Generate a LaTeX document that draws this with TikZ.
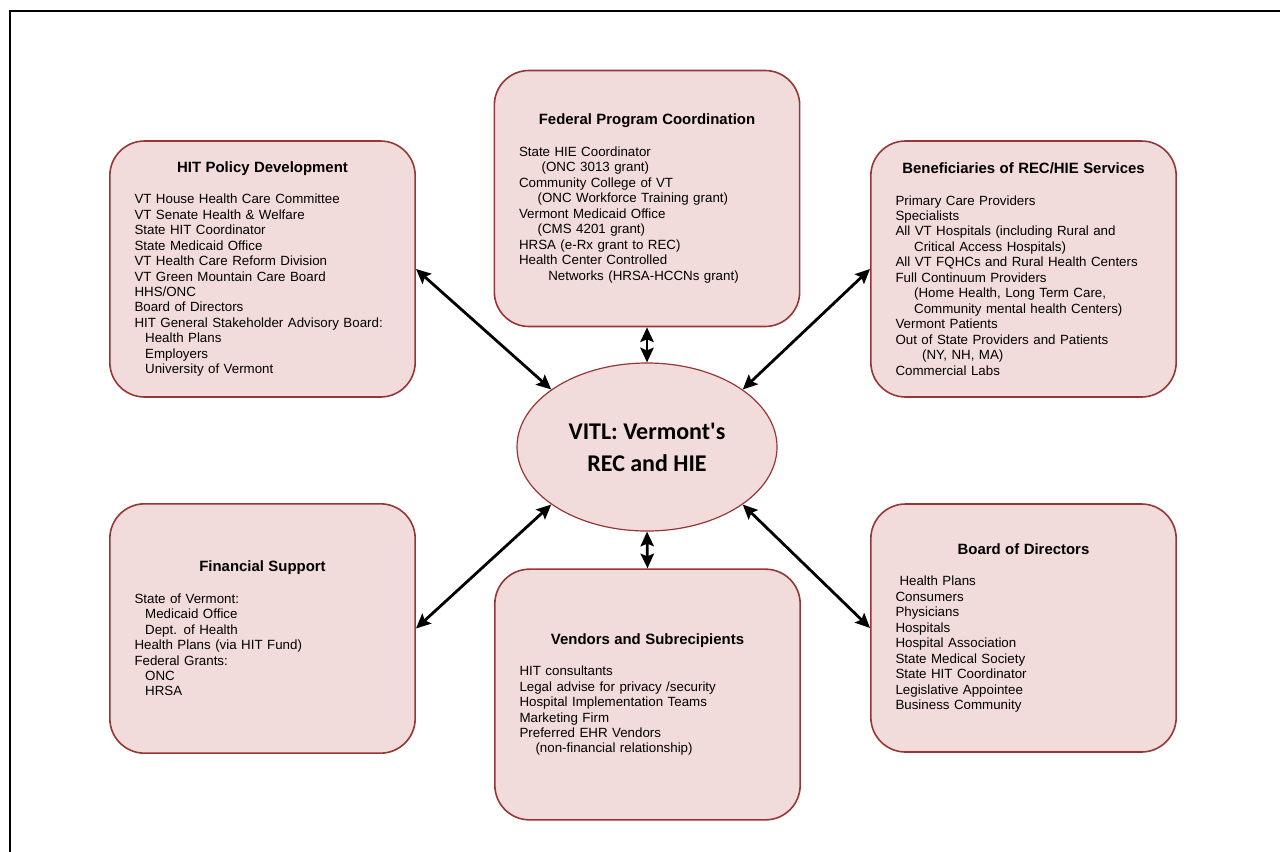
\documentclass[tikz,border=0pt]{standalone}
\usepackage{fontspec}
\setmainfont{Liberation Sans}
\newfontfamily\hubfont{Carlito}
\usetikzlibrary{arrows.meta,shapes.geometric}
\definecolor{boxfill}{HTML}{F2DCDB}
\definecolor{boxline}{HTML}{953735}
\tikzstyle{box}=[rectangle, rounded corners=26pt, fill=boxfill, draw=boxline, line width=1.2pt, minimum width=229pt, minimum height=192pt, text width=192pt, inner sep=0pt, align=left, font=\fontsize{10}{11.6}\selectfont]
\tikzstyle{hub}=[ellipse, fill=boxfill, draw=boxline, line width=0.9pt, minimum width=195pt, minimum height=126pt, inner sep=0pt, align=center, font=\hubfont\bfseries\fontsize{18}{24}\selectfont]
\tikzstyle{link}=[line width=2.1pt, {Stealth[length=11pt,width=10pt,inset=2pt]}-{Stealth[length=11pt,width=10pt,inset=2pt]}]
\newcommand{\boxhead}[1]{\makebox[\hsize]{\fontsize{11.2}{12}\selectfont\bfseries #1}\\[12pt]}
\newcommand{\ind}[1]{\hspace*{#1}}

\begin{document}
\begin{tikzpicture}[x=0.75pt, y=-0.75pt]
	\useasboundingbox (0,0) rectangle (1280,851);
	\clip (0,0) rectangle (1280,851);
	\draw[line width=1.5pt] (10,900) |- (1300,11);

	\node[hub](vitl) at (647,447){VITL: Vermont's\\REC and HIE};

	% top row
	\node[box](policy) at (262.5,269){\boxhead{HIT Policy Development}
		VT House Health Care Committee\\
		VT Senate Health \& Welfare\\
		State HIT Coordinator\\
		State Medicaid Office\\
		VT Health Care Reform Division\\
		VT Green Mountain Care Board\\
		HHS/ONC\\
		Board of Directors\\
		HIT General Stakeholder Advisory Board:\\
		\ind{8pt}Health Plans\\
		\ind{8pt}Employers\\
		\ind{8pt}University of Vermont};
	\node[box](federal) at (647,198.5){\boxhead{Federal Program Coordination}
		State HIE Coordinator\\
		\ind{17pt}(ONC 3013 grant)\\
		Community College of VT\\
		\ind{14pt}(ONC Workforce Training grant)\\
		Vermont Medicaid Office\\
		\ind{14pt}(CMS 4201 grant)\\
		HRSA (e-Rx grant to REC)\\
		Health Center Controlled\\
		\ind{22pt}Networks (HRSA-HCCNs grant)};
	\node[box](benef) at (1023.5,269){\boxhead{Beneficiaries of REC/HIE Services}
		Primary Care Providers\\
		Specialists\\
		All VT Hospitals (including Rural and\\
		\ind{14pt}Critical Access Hospitals)\\
		All VT FQHCs and Rural Health Centers\\
		Full Continuum Providers\\
		\ind{14pt}(Home Health, Long Term Care,\\
		\ind{14pt}Community mental health Centers)\\
		Vermont Patients\\
		Out of State Providers and Patients\\
		\ind{20pt}(NY, NH, MA)\\
		Commercial Labs};

	% bottom row
	\node[box, minimum height=187pt](finance) at (262.5,628.5){\boxhead{Financial Support}
		State of Vermont:\\
		\ind{8pt}Medicaid Office\\
		\ind{8pt}Dept. of Health\\
		Health Plans (via HIT Fund)\\
		Federal Grants:\\
		\ind{8pt}ONC\\
		\ind{8pt}HRSA};
	\node[box, minimum height=188pt](vendors) at (647.5,694.5){\boxhead{Vendors and Subrecipients}
		HIT consultants\\
		Legal advise for privacy /security\\
		Hospital Implementation Teams\\
		Marketing Firm\\
		Preferred EHR Vendors\\
		\ind{12pt}(non-financial relationship)};
	\node[box, minimum height=186pt](board) at (1023.5,628){\boxhead{Board of Directors}
		\ind{3pt}Health Plans\\
		Consumers\\
		Physicians\\
		Hospitals\\
		Hospital Association\\
		State Medical Society\\
		State HIT Coordinator\\
		Legislative Appointee\\
		Business Community};

	\draw[link] (policy.east) -- (vitl.149);
	\draw[link] (federal.south) -- (vitl.north);
	\draw[link] (benef.west) -- (vitl.31);
	\draw[link] (finance.east) -- (vitl.211);
	\draw[link] (vendors.north) -- (vitl.south);
	\draw[link] (board.west) -- (vitl.329);
\end{tikzpicture}
\end{document}
